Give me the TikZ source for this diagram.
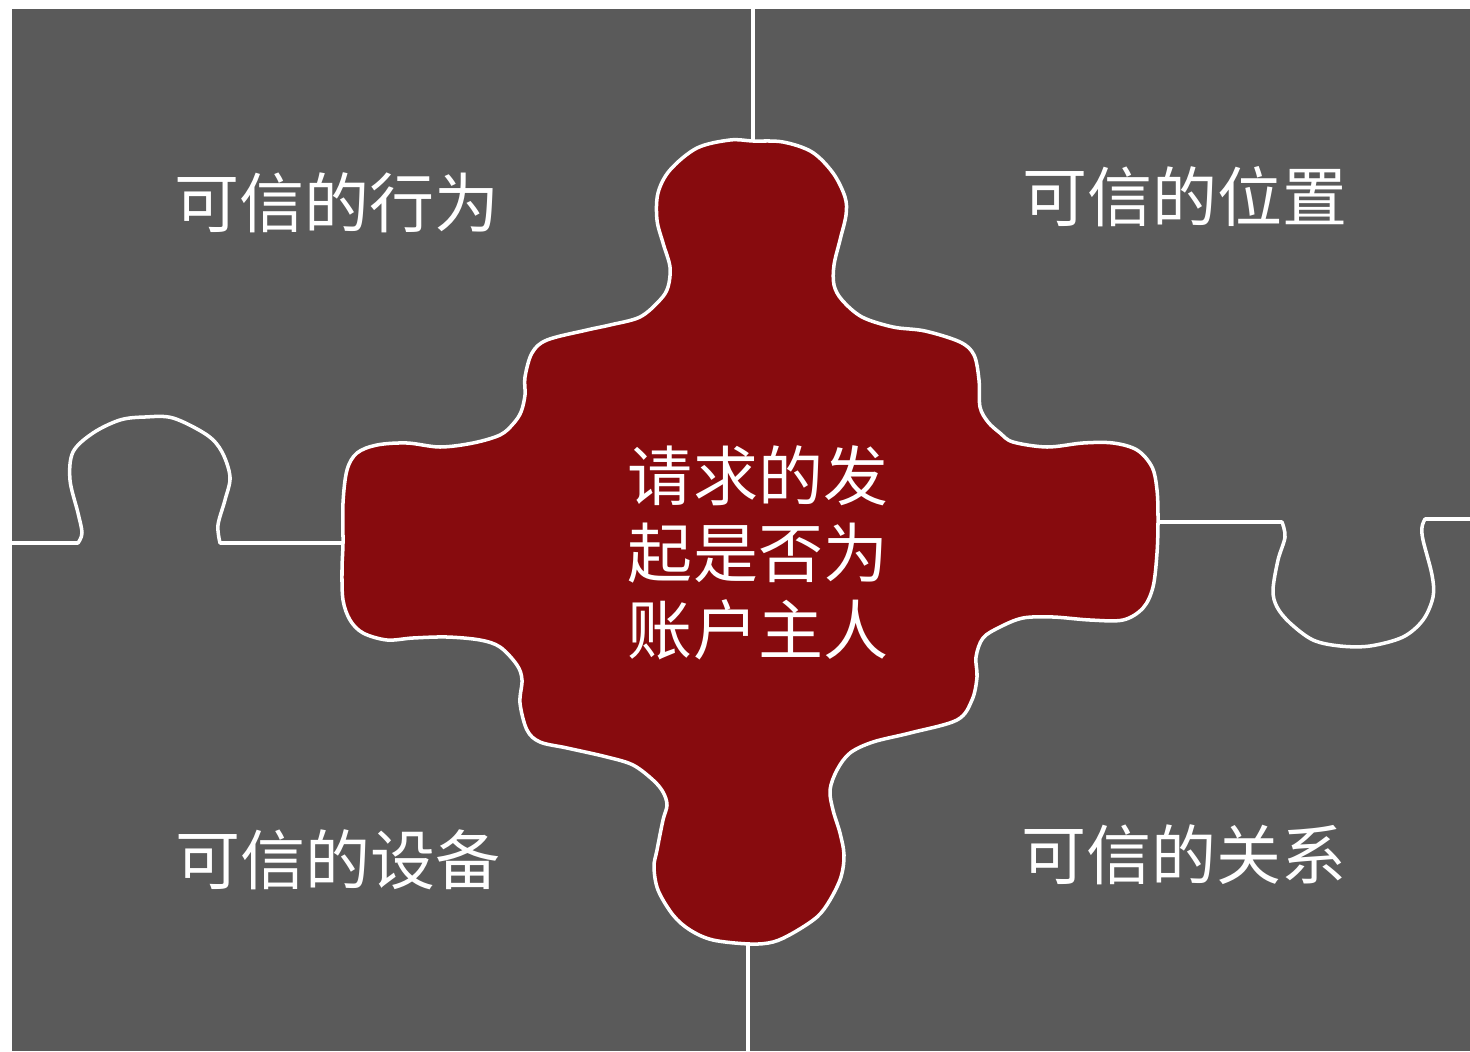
\documentclass[tikz,border=0pt]{standalone}
\usepackage{fontspec}
\newfontfamily\cjk{Noto Sans CJK SC}
\definecolor{tilegray}{RGB}{90,90,90}
\definecolor{keyred}{RGB}{135,11,14}

\begin{document}
\begin{tikzpicture}[x=0.02cm,y=-0.02cm,
    seam/.style={draw=white,line width=2pt,line join=round},
    tilelabel/.style={text=white,font=\cjk\fontsize{37}{44}\selectfont},
    keylabel/.style={text=white,align=center,font=\cjk\fontsize{37}{44}\selectfont}]
    \useasboundingbox (0,0) rectangle (1470,1051);
    \fill[tilegray] (12,9) rectangle (1470,1051);
    \draw[seam] (753,9) -- (753,142);
    \draw[seam] (748,943) -- (748,1051);
    \draw[seam] (12,543) -- plot[smooth,tension=0.55] coordinates {(78,543) (82,533) (78,513) (70,480) (73,452) (93,433) (120,420) (145,417) (173,418) (207,435) (222,452) (230,477) (225,500) (218,525) (220,543)} -- (343,543);
    \draw[seam] (1158,522) -- plot[smooth,tension=0.55] coordinates {(1282,522) (1285,537) (1278,560) (1273,590) (1277,607) (1290,623) (1313,640) (1340,646) (1370,646) (1403,637) (1423,620) (1433,597) (1432,575) (1423,540) (1422,527) (1425,519)} -- (1470,519);
    \filldraw[seam,fill=keyred] plot[smooth cycle,tension=0.55] coordinates {
      (753,141) (783,142) (812,152) (833,173) (845,197) (846,215) (840,240) (834,265) (834,285) (842,300) (862,317) (893,327) (925,331) (960,342) (974,355) (979,380) (980,407) (988,422) (1000,433)
      (1013,442) (1047,447) (1083,443) (1113,443) (1137,450) (1152,467) (1157,490) (1158,520) (1157,553) (1153,587) (1143,608) (1123,620) (1090,620) (1053,617) (1023,618) (1000,627)
      (983,638) (976,657) (977,677) (972,700) (957,720) (910,733) (873,742) (850,753) (837,770) (830,790) (833,810) (840,833) (844,855) (841,877) (830,900) (817,917) (793,933) (773,942)
      (750,944) (713,940) (690,930) (673,915) (658,890) (654,867) (657,850) (663,820) (667,805) (663,792) (653,780) (633,765) (607,757) (567,748) (540,742) (527,730) (520,703) (522,680) (517,665) (500,647)
      (480,640) (447,637) (413,638) (387,640) (363,633) (350,620) (343,600) (342,570) (343,543) (343,503) (347,470) (357,453) (377,445) (407,443) (440,447) (473,443) (500,435)
      (513,424) (521,412) (525,395) (525,377) (532,353) (547,340) (587,330) (610,325) (640,317) (660,300) (668,287) (670,267) (663,243) (657,220) (658,193) (670,170) (697,148) (730,140)};
    \node[tilelabel] (behaviour) at (337,203) {可信的行为};
    \node[tilelabel] (location) at (1185,197) {可信的位置};
    \node[tilelabel] (device) at (338,860) {可信的设备};
    \node[tilelabel] (relation) at (1184,855) {可信的关系};
    \node[keylabel] (owner) at (758,553) {请求的发\\起是否为\\账户主人};
\end{tikzpicture}
\end{document}
